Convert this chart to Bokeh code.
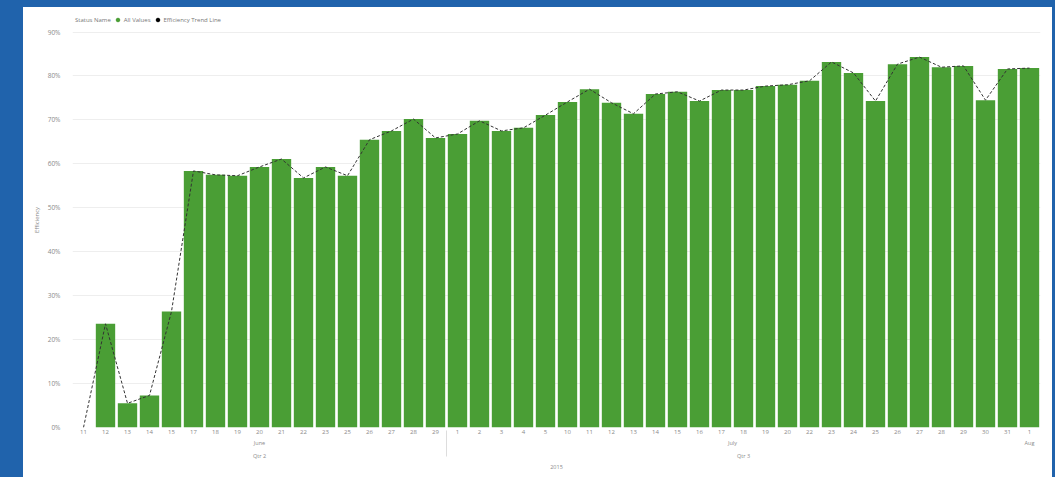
from bokeh.plotting import figure
from bokeh.models import (FactorRange, Range1d, ColumnDataSource, Legend, LegendItem,
                          FixedTicker, NumeralTickFormatter, Title)
from bokeh.layouts import column
from bokeh.embed import file_html
from bokeh.resources import INLINE

# ---- data ----
quarters = ["Qtr 2"] * 17 + ["Qtr 3"] * 27
months = ["June"] * 17 + ["July"] * 26 + ["Aug"]
days = ["11", "12", "13", "14", "15", "17", "18", "19", "20", "21", "22", "23", "25", "26", "27", "28", "29",
        "1", "2", "3", "4", "5", "10", "11", "12", "13", "14", "15", "16", "17", "18", "19", "20",
        "22", "23", "24", "25", "26", "27", "28", "29", "30", "31",
        "1"]
efficiency = [0.0, 0.236, 0.055, 0.073, 0.264, 0.584, 0.575, 0.573, 0.593, 0.611, 0.568, 0.593, 0.573,
              0.655, 0.675, 0.702, 0.659,
              0.668, 0.698, 0.675, 0.682, 0.711, 0.741, 0.770, 0.739, 0.714, 0.759, 0.764, 0.743,
              0.768, 0.768, 0.777, 0.780, 0.789, 0.832, 0.807, 0.743, 0.827, 0.843, 0.820, 0.823,
              0.745, 0.816,
              0.818]
y_ticks = [0, 0.1, 0.2, 0.3, 0.4, 0.5, 0.6, 0.7, 0.8, 0.9]
year_label = "2015"
legend_title = "Status Name"
series_names = ["All Values", "Efficiency Trend Line"]
y_title = "Efficiency"

GREEN = "#4a9e35"
BLUE = "#2063ac"
FONT = "Open Sans"
GREY = "#8a8a8a"

factors = list(zip(quarters, months, days))
src = ColumnDataSource(data=dict(x=factors, eff=efficiency))

x_range = FactorRange(*factors, factor_padding=0, subgroup_padding=0, group_padding=0, range_padding=0)

p = figure(width=1029, height=470, x_range=x_range, y_range=Range1d(0, 0.9445),
           output_backend="svg", toolbar_location=None,
           min_border_left=49, min_border_right=12, min_border_top=5, min_border_bottom=50,
           background_fill_color="white", border_fill_color="white")
p.outline_line_color = None
p.margin = (7, 3, 0, 23)
p.styles = {"background-color": "white"}

bars = p.vbar(x="x", top="eff", width=0.88, source=src, fill_color=GREEN, line_color=None)
trend = p.line(x="x", y="eff", source=src, line_color="#333333", line_width=1, line_dash="3 2")

# legend proxies (circle markers, kept below the visible range);
# the legend title is shown as a glyph-less first entry
hidden_x = [factors[0]]
hidden_y = [-1.0]
g0 = p.scatter(x=hidden_x, y=hidden_y, marker="circle", size=1, fill_alpha=0, line_alpha=0)
g1 = p.scatter(x=hidden_x, y=hidden_y, marker="circle", size=8, fill_color=GREEN, line_color=GREEN)
g2 = p.scatter(x=hidden_x, y=hidden_y, marker="circle", size=8, fill_color="black", line_color="black")

legend = Legend(items=[LegendItem(label=legend_title, renderers=[g0]),
                       LegendItem(label=series_names[0], renderers=[g1]),
                       LegendItem(label=series_names[1], renderers=[g2])],
                orientation="horizontal", location=(-8, 403),
                label_text_font=FONT, label_text_font_size="6px", label_text_color="#777777",
                label_standoff=2, label_height=9, label_width=10,
                glyph_width=9, glyph_height=9, spacing=2,
                padding=0, margin=0, border_line_color=None, background_fill_alpha=0)
p.add_layout(legend)

# y axis
p.yaxis.ticker = FixedTicker(ticks=y_ticks)
p.yaxis.formatter = NumeralTickFormatter(format="0%")
p.yaxis.axis_line_color = None
p.yaxis.major_tick_line_color = None
p.yaxis.minor_tick_line_color = None
p.yaxis.major_tick_out = 0
p.yaxis.major_tick_in = 0
p.yaxis.minor_tick_out = 0
p.yaxis.major_label_text_font = FONT
p.yaxis.major_label_text_font_size = "6.5px"
p.yaxis.major_label_text_color = GREY
p.yaxis.major_label_standoff = 12
p.yaxis.axis_label = y_title
p.yaxis.axis_label_text_font = FONT
p.yaxis.axis_label_text_font_size = "6px"
p.yaxis.axis_label_text_font_style = "normal"
p.yaxis.axis_label_text_color = GREY
p.yaxis.axis_label_standoff = 4

p.ygrid.ticker = FixedTicker(ticks=y_ticks)
p.ygrid.grid_line_color = "#eeeeee"
p.xgrid.grid_line_color = None

# x axis
xa = p.xaxis[0]
xa.axis_line_color = None
xa.major_tick_line_color = None
xa.minor_tick_line_color = None
xa.major_tick_out = 0
xa.major_tick_in = 0
xa.minor_tick_out = 0
xa.major_label_text_font = FONT
xa.major_label_text_font_size = "6px"
xa.major_label_text_color = GREY
xa.major_label_standoff = 2
xa.major_label_orientation = "horizontal"
xa.subgroup_text_font = FONT
xa.subgroup_text_font_size = "5.5px"
xa.subgroup_text_color = GREY
xa.subgroup_text_font_style = "normal"
xa.group_text_font = FONT
xa.group_text_font_size = "5.5px"
xa.group_text_color = GREY
xa.group_text_font_style = "normal"
xa.separator_line_color = "#dddddd"
xa.separator_line_width = 1

p.add_layout(Title(text=year_label, align="center", text_font=FONT, text_font_size="5.5px",
                   text_color=GREY, text_font_style="normal", standoff=0, offset=0), "below")

layout = column(p, styles={"background-color": BLUE})

open("out.html", "w").write(file_html(layout, INLINE))
